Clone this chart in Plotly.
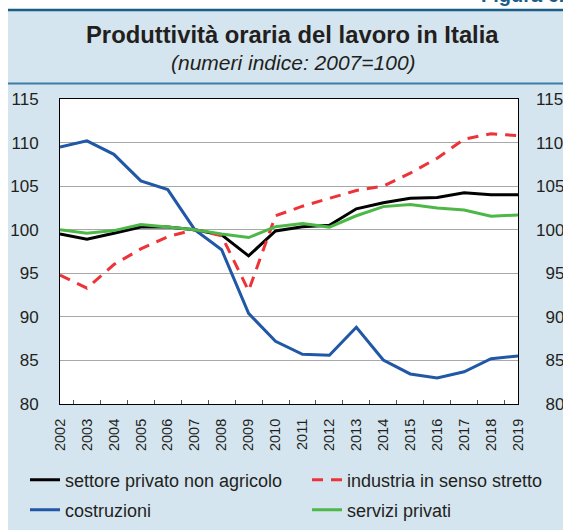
import plotly.graph_objects as go

years = [str(y) for y in range(2002, 2020)]
settore_privato = [99.5, 98.9, 99.6, 100.3, 100.3, 100.0, 99.4, 97.0, 99.85, 100.35, 100.5, 102.4, 103.1, 103.6, 103.7, 104.25, 104.0, 104.0]
industria = [94.8, 93.3, 96.0, 97.8, 99.2, 100.0, 99.3, 93.0, 101.6, 102.7, 103.6, 104.5, 105.0, 106.5, 108.2, 110.4, 111.0, 110.8]
costruzioni = [109.5, 110.2, 108.65, 105.6, 104.6, 100.0, 97.7, 90.4, 87.2, 85.7, 85.6, 88.8, 85.05, 83.45, 83.0, 83.7, 85.2, 85.5]
servizi = [100.0, 99.6, 99.9, 100.6, 100.3, 100.0, 99.5, 99.1, 100.35, 100.7, 100.3, 101.6, 102.65, 102.9, 102.5, 102.25, 101.55, 101.7]
y_ticks = [80, 85, 90, 95, 100, 105, 110, 115]
y_labels = ["80", "85", "90", "95", "100", "105", "110", "115"]
# right-hand labels are right-aligned in the reference: pad with figure spaces
y_labels_right = [("\u2007" + s) if len(s) == 2 else s for s in y_labels]

title = "Produttività oraria del lavoro in Italia"
subtitle = "(numeri indice: 2007=100)"
figure_label = "Figura 6."

W, H = 563, 530
L, R, T, B = 60, 45, 99, 126
PW, PH = W - L - R, H - T - B

def px(x):
    return (x - L) / PW

def py(y):
    return (H - B - y) / PH

FONT = "Liberation Sans, Arial, sans-serif"
PANEL = "#D5E5EF"
TXT = "#231F20"

fig = go.Figure()
fig.add_trace(go.Scatter(x=years, y=settore_privato, mode="lines", name="settore privato non agricolo",
                         line=dict(color="#000000", width=3), legend="legend"))
fig.add_trace(go.Scatter(x=years, y=industria, mode="lines", name="industria in senso stretto",
                         line=dict(color="#EE3338", width=3, dash="11px,8px"), legend="legend2"))
fig.add_trace(go.Scatter(x=years, y=costruzioni, mode="lines", name="costruzioni",
                         line=dict(color="#2057A6", width=3), legend="legend3"))
fig.add_trace(go.Scatter(x=years, y=servizi, mode="lines", name="servizi privati",
                         line=dict(color="#4DB848", width=3), legend="legend4"))
# invisible trace to carry the right-hand axis
fig.add_trace(go.Scatter(x=years, y=settore_privato, yaxis="y2", mode="lines", showlegend=False,
                         hoverinfo="skip", line=dict(width=0), opacity=0))

axis_font = dict(family=FONT, size=17, color=TXT)
legend_font = dict(family=FONT, size=18, color=TXT)

def leg(xp, yp):
    return dict(orientation="h", xref="container", yref="container", x=xp / W, y=1 - yp / H,
                xanchor="left", yanchor="middle", bgcolor="rgba(0,0,0,0)", font=legend_font,
                itemwidth=30)

fig.update_layout(
    width=W, height=H,
    margin=dict(l=L, r=R, t=T, b=B, autoexpand=False),
    paper_bgcolor=PANEL, plot_bgcolor="#FFFFFF",
    font=dict(family=FONT, color=TXT),
    xaxis=dict(type="category", showline=True, linecolor="#000000", linewidth=1, mirror=True,
               ticks="inside", tickson="boundaries", ticklen=4, tickcolor="#555555",
               tickangle=-90, tickfont=dict(family=FONT, size=14.5, color=TXT),
               showgrid=False, zeroline=False, ticklabelstandoff=8, automargin=False),
    yaxis=dict(range=[80, 115], tickvals=y_ticks, ticktext=y_labels, showline=True,
               linecolor="#000000", linewidth=1, mirror=True, ticks="", showgrid=True,
               gridcolor="#A8A8A8", gridwidth=1, tickfont=axis_font, zeroline=False,
               ticklabelstandoff=17, automargin=False),
    yaxis2=dict(range=[80, 115], tickvals=y_ticks, ticktext=y_labels_right, overlaying="y",
                side="right", showgrid=False, ticks="", tickfont=axis_font, zeroline=False,
                showline=False, ticklabelstandoff=17, automargin=False),
    legend=leg(25, 480),
    legend2=leg(307, 480),
    legend3=leg(25, 510),
    legend4=leg(307, 510),
    showlegend=True,
)

# white strip on the left edge and above the header rule
fig.add_shape(type="rect", xref="paper", yref="paper", x0=px(0), x1=px(8), y0=py(H), y1=py(0),
              fillcolor="#FFFFFF", line=dict(width=0), layer="below")
fig.add_shape(type="rect", xref="paper", yref="paper", x0=px(8), x1=px(W), y0=py(0), y1=py(9),
              fillcolor="#FFFFFF", line=dict(width=0), layer="below")
fig.add_shape(type="line", xref="paper", yref="paper", x0=px(8), x1=px(W), y0=py(10), y1=py(10),
              line=dict(color="#1A5E88", width=2.5))
fig.add_shape(type="line", xref="paper", yref="paper", x0=px(8), x1=px(W), y0=py(83.5), y1=py(83.5),
              line=dict(color="#3A7EA6", width=2))

fig.add_annotation(text="<b>" + title + "</b>", xref="paper", yref="paper", x=px(292), y=py(35),
                   xanchor="center", yanchor="middle", showarrow=False,
                   font=dict(family=FONT, size=23.8, color=TXT))
fig.add_annotation(text="<i>" + subtitle + "</i>", xref="paper", yref="paper", x=px(293), y=py(63),
                   xanchor="center", yanchor="middle", showarrow=False,
                   font=dict(family=FONT, size=21, color=TXT))
fig.add_annotation(text="<b>" + figure_label + "</b>", xref="paper", yref="paper", x=px(479), y=py(8),
                   xanchor="left", yanchor="bottom", showarrow=False,
                   font=dict(family=FONT, size=20, color="#1A5E88"))

fig.write_html("out.html", config={"displayModeBar": False},
               post_script="document.body.style.margin='0px';")
